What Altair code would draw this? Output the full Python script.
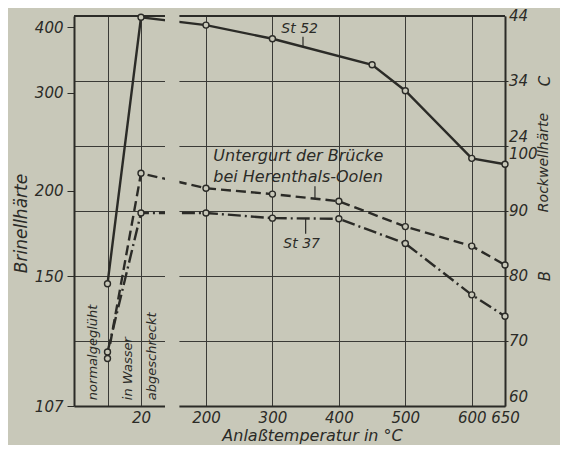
import altair as alt
import pandas as pd

BG = "#c8c8b9"
INK = "#2b2b27"
GRID = "#3a3a36"
FONT = "DejaVu Sans"

# x: -40 = "normalgeglüht" slot (no temperature), other values = Anlaßtemperatur in °C
NORMAL_X = -40
ST52_X = [NORMAL_X, 20, 200, 300, 450, 500, 600, 650]
ST52_Y = [78.8, 119.8, 118.6, 116.5, 112.5, 108.5, 98.1, 97.2]
UG_X = [NORMAL_X, 20, 200, 300, 400, 500, 600, 650]
UG_Y = [67.3, 95.8, 93.5, 92.6, 91.5, 87.6, 84.6, 81.7]
ST37_X = [NORMAL_X, 20, 200, 300, 400, 500, 600, 650]
ST37_Y = [68.3, 89.7, 89.7, 88.9, 88.8, 85.0, 77.1, 73.8]

X_AXIS_VALUES = [NORMAL_X, 20, 200, 300, 400, 500, 600, 650]
BRINELL_LABELS = ["107", "150", "200", "300", "400"]
BRINELL_POS = [60, 80, 93.1, 108.2, 118.3]
ROCKWELL_GRID = [70, 80, 90, 100, 110]

RIGHT_MID_TEXT = ["44", "34", "90", "80", "70"]
RIGHT_MID_POS = [120, 110, 90, 80, 70]
RIGHT_BOTTOM_TEXT = ["24", "60"]
RIGHT_BOTTOM_POS = [100, 60]
RIGHT_TOP_TEXT = ["100"]
RIGHT_TOP_POS = [100]
SCALE_LETTERS = ["C", "B"]
SCALE_LETTER_POS = [110, 80]

ROT_TEXT = ["normalgeglüht", "in Wasser", "abgeschreckt"]
ROT_X = [-66, -3, 38]
ROT_Y = [60.9, 60.9, 60.9]

LABEL_TEXT = ["St 52", "St 37"]
LABEL_X = [341, 344]
LABEL_Y = [118.0, 85.0]
UG_TEXT = ["Untergurt der Brücke", "bei Herenthals-Oolen"]
UG_TEXT_X = [211, 211]
UG_TEXT_Y = [98.4, 95.2]
LEADER_X = [346, 364, 350]
LEADER_Y1 = [116.8, 93.8, 86.5]
LEADER_Y2 = [115.4, 91.9, 88.8]

GAP = [60, 160]
FRAME_X = [-100, 650]
FRAME_TOP = 120

xscale = alt.Scale(domain=[-100, 20, 60, 160, 650], range=[0, 67, 91, 105.4, 431],
                   nice=False, zero=False)
yscale = alt.Scale(domain=[60, 120], nice=False, zero=False)

def sdf(xs, ys):
    return pd.DataFrame({"t": xs, "h": ys})

brinell_expr = " : ".join(
    f"abs(datum.value - {p}) < 0.5 ? '{l}'" for p, l in zip(BRINELL_POS, BRINELL_LABELS)
) + " : ''"

x_axis = alt.Axis(values=X_AXIS_VALUES, grid=True, gridColor=GRID, gridWidth=1,
                  ticks=False, domain=True, domainColor=INK, domainWidth=2,
                  labelExpr="datum.value < 0 ? '' : datum.label", labelOverlap=False,
                  labelFlush=False,
                  labelFont=FONT, labelFontSize=15, labelFontStyle="italic", labelColor=INK,
                  labelPadding=4, title="Anlaßtemperatur in °C", titleFont=FONT,
                  titleFontSize=16, titleFontStyle="italic", titleFontWeight="normal",
                  titleColor=INK, titleX=238, titleY=29, titleBaseline="middle",
                  titleAlign="center")
y_left = alt.Axis(orient="left", values=BRINELL_POS, labelExpr=brinell_expr, grid=False,
                  ticks=True, tickSize=7, tickColor=INK, tickWidth=1,
                  domain=True, domainColor=INK, domainWidth=2,
                  labelFont=FONT, labelFontSize=15, labelFontStyle="italic", labelColor=INK,
                  labelPadding=4, labelOverlap=False, labelFlush=False,
                  title="Brinellhärte", titleFont=FONT, titleFontSize=17,
                  titleFontStyle="italic", titleFontWeight="normal", titleColor=INK,
                  titleAngle=270, titleX=-53, titleY=207, titleAlign="center",
                  titleBaseline="middle")
y_right = alt.Axis(orient="right", values=ROCKWELL_GRID, grid=True, gridColor=GRID,
                   gridWidth=1, labels=False, ticks=True, tickSize=3, tickColor=INK,
                   domain=True, domainColor=INK, domainWidth=2,
                   title="Rockwellhärte", titleFont=FONT, titleFontSize=14,
                   titleFontStyle="italic", titleFontWeight="normal", titleColor=INK,
                   titleAngle=270, titleX=38, titleY=146, titleAlign="center",
                   titleBaseline="middle")

X = lambda: alt.X("t:Q", scale=xscale, axis=x_axis)
Y = lambda axis=None: alt.Y("h:Q", scale=yscale, axis=axis)

frame_top = alt.Chart(pd.DataFrame({"t": [FRAME_X[0]], "t2": [FRAME_X[1]], "h": [FRAME_TOP]})).mark_rule(
    color=INK, strokeWidth=2).encode(x=X(), x2="t2:Q", y=Y(y_left))

right_axis_layer = alt.Chart(pd.DataFrame({"t": [650], "h": [120]})).mark_point(opacity=0).encode(
    x=X(), y=Y(y_right))

def line_layer(xs, ys, dash):
    base = alt.Chart(sdf(xs, ys))
    props = dict(color=INK, strokeWidth=2.4)
    if dash:
        props["strokeDash"] = dash
    ln = base.mark_line(**props).encode(x=X(), y=Y())
    pt = base.mark_point(shape="circle", filled=True, fill=BG, stroke=INK, strokeWidth=1.4,
                         size=36, opacity=1).encode(x=X(), y=Y())
    return ln, pt

l52, p52 = line_layer(ST52_X, ST52_Y, None)
lug, pug = line_layer(UG_X, UG_Y, [10, 5])
l37, p37 = line_layer(ST37_X, ST37_Y, [13, 4, 2, 4])

gap = alt.Chart(pd.DataFrame({"t": [GAP[0]], "t2": [GAP[1]]})).mark_rect(fill=BG).encode(
    x=X(), x2="t2:Q", y=alt.value(-4), y2=alt.value(394))

txt_common = dict(font=FONT, fontStyle="italic", color=INK)

rot = alt.Chart(pd.DataFrame({"t": ROT_X, "h": ROT_Y, "s": ROT_TEXT})).mark_text(
    angle=270, align="left", baseline="middle", fontSize=13, **txt_common).encode(
    x=X(), y=Y(), text="s:N")

lab = alt.Chart(pd.DataFrame({"t": LABEL_X, "h": LABEL_Y, "s": LABEL_TEXT})).mark_text(
    align="center", baseline="middle", fontSize=14, **txt_common).encode(
    x=X(), y=Y(), text="s:N")

ugl = alt.Chart(pd.DataFrame({"t": UG_TEXT_X, "h": UG_TEXT_Y, "s": UG_TEXT})).mark_text(
    align="left", baseline="middle", fontSize=16, **txt_common).encode(
    x=X(), y=Y(), text="s:N")

leaders = alt.Chart(pd.DataFrame({"t": LEADER_X, "h": LEADER_Y1, "h2": LEADER_Y2})).mark_rule(
    color=INK, strokeWidth=1.2).encode(x=X(), y=Y(), y2="h2:Q")

rmid = alt.Chart(pd.DataFrame({"t": [650] * len(RIGHT_MID_POS), "h": RIGHT_MID_POS, "s": RIGHT_MID_TEXT})).mark_text(
    align="left", baseline="middle", dx=4, fontSize=15, **txt_common).encode(x=X(), y=Y(), text="s:N")
rbot = alt.Chart(pd.DataFrame({"t": [650] * len(RIGHT_BOTTOM_POS), "h": RIGHT_BOTTOM_POS, "s": RIGHT_BOTTOM_TEXT})).mark_text(
    align="left", baseline="bottom", dx=4, dy=-1, fontSize=15, **txt_common).encode(x=X(), y=Y(), text="s:N")
rtop = alt.Chart(pd.DataFrame({"t": [650] * len(RIGHT_TOP_POS), "h": RIGHT_TOP_POS, "s": RIGHT_TOP_TEXT})).mark_text(
    align="left", baseline="top", dx=4, dy=1, fontSize=15, **txt_common).encode(x=X(), y=Y(), text="s:N")
# rotated by 270 degrees: dy shifts the letters to the right of the frame
letters = alt.Chart(pd.DataFrame({"t": [650] * len(SCALE_LETTER_POS), "h": SCALE_LETTER_POS, "s": SCALE_LETTERS})).mark_text(
    align="center", baseline="middle", angle=270, dy=40, fontSize=15, **txt_common).encode(x=X(), y=Y(), text="s:N")

chart = alt.layer(
    frame_top, right_axis_layer, l52, lug, l37, p52, pug, p37, gap,
    rot, lab, ugl, leaders, rmid, rbot, rtop, letters
).resolve_axis(y="independent").properties(
    width=431, height=390,
    autosize=alt.AutoSizeParams(type="none"),
    padding={"left": 66, "top": 8, "right": 55, "bottom": 39},
    background=BG,
).configure_view(stroke=None)

chart.save("out.html", embed_options={"renderer": "svg", "actions": False})
